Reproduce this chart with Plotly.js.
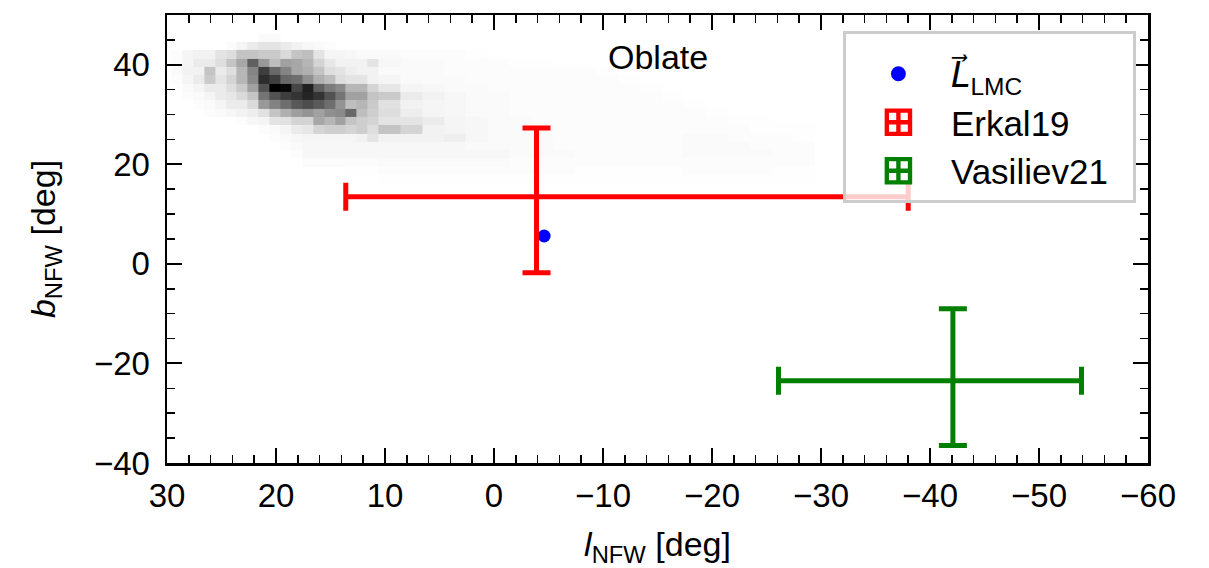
<!DOCTYPE html>
<html>
<head>
<meta charset="utf-8">
<script src="https://cdn.plot.ly/plotly-3.0.1.min.js"></script>
<style>html,body{margin:0;padding:0;background:#fff;}#chart{width:1209px;height:568px;}</style>
</head>
<body>
<div id="chart"></div>
<script>
// ---- 2D histogram of orbital poles (grey background) ----
// bin edges in l (deg): 1-deg bins in the core, 2-deg bins in the faint tail
const histXEdges = [29.6,28.6,27.6,26.6,25.6,24.6,23.6,22.6,21.6,20.6,19.6,18.6,17.6,16.6,15.6,14.6,13.6,12.6,11.6,10.6,
  8.6,6.6,4.6,2.6,0.6,-1.4,-3.4,-5.4,-7.4,-9.4,-11.4,-13.4,-15.4,-17.4,-19.4,-21.4,-23.4,-25.4,-27.4,-29.4];
// bin edges in b (deg), top to bottom
const histYEdges = [46.2,44.6,42.9,41.2,39.5,37.9,36.2,34.5,32.9,31.2,29.5,27.9,26.2,24.5,22.9,21.2,19.5,17.9,16.2];
// relative density (0 = white, 1 = black), one row per b bin, top to bottom
const histDensity = [
 [0,0,0,0,0,0,0,0,0.03,0.03,0,0,0,0,0,0,0,0,0, 0,0,0,0,0,0,0,0,0,0,0,0,0,0,0,0,0,0,0,0],
 [0,0,0,0,0,0.02,0.05,0.08,0.1,0.1,0.08,0.06,0.04,0.03,0.02,0,0,0,0, 0,0,0,0,0,0,0,0,0,0,0,0,0,0,0,0,0,0,0,0],
 [0.02,0.05,0.06,0.06,0.1,0.12,0.2,0.2,0.18,0.18,0.13,0.2,0.22,0.1,0.05,0.05,0.04,0.03,0.03, 0.03,0.02,0.02,0.02,0.01,0,0,0,0,0,0,0,0,0,0,0,0,0,0,0],
 [0.02,0.05,0.08,0.08,0.12,0.2,0.3,0.55,0.35,0.22,0.32,0.3,0.25,0.15,0.09,0.06,0.06,0.06,0.1, 0.04,0.03,0.03,0.02,0.02,0.02,0.01,0.01,0,0,0,0,0,0,0,0,0,0,0,0],
 [0.03,0.06,0.06,0.2,0.08,0.12,0.25,0.42,0.68,0.52,0.42,0.3,0.27,0.2,0.12,0.1,0.07,0.06,0.06, 0.03,0.03,0.03,0.02,0.02,0.02,0.02,0.02,0.02,0.02,0.01,0,0,0,0,0,0,0,0,0],
 [0.02,0.05,0.08,0.18,0.1,0.15,0.25,0.4,0.75,0.68,0.52,0.5,0.38,0.27,0.22,0.12,0.1,0.1,0.06, 0.05,0.03,0.03,0.03,0.02,0.02,0.02,0.02,0.02,0.02,0.02,0.01,0,0,0,0,0,0,0,0],
 [0.01,0.03,0.05,0.08,0.08,0.12,0.18,0.32,0.6,1.0,0.95,0.65,0.8,0.55,0.45,0.4,0.25,0.25,0.15, 0.09,0.05,0.04,0.03,0.03,0.02,0.02,0.02,0.02,0.02,0.02,0.02,0.01,0,0,0,0,0,0,0],
 [0,0.02,0.03,0.05,0.08,0.09,0.13,0.2,0.48,0.6,0.68,0.72,0.78,0.72,0.6,0.48,0.32,0.32,0.2, 0.18,0.08,0.06,0.04,0.03,0.03,0.02,0.02,0.02,0.02,0.02,0.02,0.02,0.01,0,0,0,0,0,0],
 [0,0,0.02,0.03,0.05,0.08,0.08,0.13,0.35,0.43,0.5,0.58,0.62,0.57,0.5,0.37,0.22,0.25,0.18, 0.11,0.06,0.05,0.04,0.03,0.03,0.02,0.02,0.02,0.02,0.02,0.02,0.02,0.02,0.01,0,0,0,0,0],
 [0,0,0,0.02,0.03,0.04,0.06,0.07,0.11,0.2,0.27,0.33,0.37,0.32,0.38,0.4,0.52,0.22,0.17, 0.12,0.07,0.05,0.04,0.03,0.03,0.02,0.02,0.02,0.02,0.02,0.02,0.02,0.02,0.02,0.01,0,0,0,0],
 [0,0,0,0,0,0,0.02,0.04,0.05,0.1,0.11,0.15,0.15,0.3,0.25,0.32,0.2,0.17,0.15, 0.1,0.1,0.08,0.05,0.04,0.03,0.03,0.02,0.02,0.02,0.02,0.02,0.02,0.02,0.02,0.02,0.01,0.01,0,0],
 [0,0,0,0,0,0,0,0,0.02,0.03,0.05,0.08,0.09,0.15,0.17,0.17,0.15,0.17,0.12, 0.2,0.15,0.06,0.05,0.04,0.03,0.03,0.02,0.02,0.02,0.02,0.02,0.02,0.02,0.02,0.02,0.02,0.01,0.01,0.01],
 [0,0,0,0,0,0,0,0,0,0.02,0.03,0.04,0.05,0.05,0.05,0.05,0.05,0.06,0.1, 0.06,0.06,0.06,0.07,0.04,0.03,0.03,0.03,0.02,0.02,0.02,0.02,0.02,0.02,0.03,0.03,0.02,0.02,0.02,0.01],
 [0,0,0,0,0,0,0,0,0,0,0.02,0.03,0.04,0.04,0.04,0.04,0.04,0.04,0.04, 0.04,0.04,0.04,0.04,0.03,0.03,0.03,0.03,0.02,0.02,0.02,0.02,0.02,0.02,0.03,0.03,0.03,0.02,0.02,0.02],
 [0,0,0,0,0,0,0,0,0,0,0,0.02,0.04,0.04,0.04,0.04,0.04,0.04,0.04, 0.04,0.04,0.04,0.04,0.04,0.04,0.03,0.03,0.03,0.02,0.02,0.02,0.02,0.02,0.03,0.03,0.03,0.03,0.02,0.02],
 [0,0,0,0,0,0,0,0,0,0,0,0,0.02,0.02,0.02,0.02,0.02,0.02,0.02, 0.03,0.03,0.03,0.03,0.03,0.03,0.02,0.02,0.02,0.02,0.02,0.02,0.02,0.02,0.02,0.02,0.02,0.02,0.02,0.02],
 [0,0,0,0,0,0,0,0,0,0,0,0,0,0,0,0,0.01,0.01,0.01, 0.02,0.02,0.02,0.02,0.02,0.02,0.02,0.02,0.02,0.01,0.01,0.01,0.01,0.01,0.02,0.02,0.02,0.02,0.01,0.01],
 [0,0,0,0,0,0,0,0,0,0,0,0,0,0,0,0,0,0,0, 0.01,0.01,0.01,0.01,0.01,0.01,0.01,0.01,0.01,0.01,0.01,0.01,0.01,0.01,0.01,0.01,0.01,0.01,0.01,0.01]
];

// ---- LMC orbital angular momentum direction ----
const lmcL = [-4.6];
const lmcB = [5.6];

// ---- measurements: centre and lower/upper extents (deg) ----
const seriesNames = ["Erkal19", "Vasiliev21"];
const seriesColors = ["#ff0000", "#008000"];
const centerL = [-3.9, -42.1];
const centerB = [13.5, -23.5];
const lLow  = [-38.0, -53.9];   // most negative l of the bar
const lHigh = [13.6, -26.1];    // most positive l of the bar
const bLow  = [-1.8, -36.5];
const bHigh = [27.3, -9.0];

const FONT = "Liberation Sans, Arial, Helvetica, sans-serif";

const traces = [];
traces.push({
  type: "heatmap",
  x: histXEdges, y: histYEdges, z: histDensity,
  zmin: 0, zmax: 1, zsmooth: false,
  colorscale: [[0, "#ffffff"], [0.02, "#fcfcfc"], [0.05, "#f5f5f5"], [0.1, "#e4e4e4"], [0.2, "#c4c4c4"],
               [0.4, "#8a8a8a"], [0.6, "#525252"], [0.8, "#202020"], [1, "#000000"]],
  showscale: false, hoverinfo: "skip", showlegend: false
});
traces.push({
  type: "scatter", mode: "markers",
  x: lmcL, y: lmcB,
  marker: {color: "#0000ff", size: 13},
  name: "<span style=\"font-family:'DejaVu Sans'\"><i>L\u20D7</i></span><sub>LMC</sub>",
  legendgroup: "g0", showlegend: true
});
for (let i = 0; i < seriesNames.length; i++) {
  traces.push({
    type: "scatter", mode: "markers",
    x: [centerL[i]], y: [centerB[i]],
    marker: {size: 1, color: seriesColors[i], opacity: 0},
    error_x: {type: "data", symmetric: false,
      array: [lHigh[i] - centerL[i]], arrayminus: [centerL[i] - lLow[i]],
      color: seriesColors[i], thickness: 5, width: 14},
    error_y: {type: "data", symmetric: false,
      array: [bHigh[i] - centerB[i]], arrayminus: [centerB[i] - bLow[i]],
      color: seriesColors[i], thickness: 5, width: 14},
    showlegend: false, hoverinfo: "skip"
  });
  // legend glyph only (the widest label gets trailing padding so the box is as wide as the reference's)
  traces.push({
    type: "scatter", mode: "markers",
    x: [null], y: [null],
    marker: {symbol: "square-cross-open", size: 16, color: seriesColors[i], line: {width: 3, color: seriesColors[i]}},
    name: seriesNames[i] + (i === seriesNames.length - 1 ? "\u00a0\u00a0" : ""),
    legendgroup: "g" + (i + 1), showlegend: true
  });
}

const axisCommon = {
  showline: true, linecolor: "#000", linewidth: 2.5, mirror: "allticks",
  ticks: "inside", ticklen: 15, tickwidth: 2, tickcolor: "#000",
  showgrid: false, zeroline: false,
  tickfont: {family: FONT, size: 33, color: "#000"}
};

const layout = {
  width: 1209, height: 568,
  margin: {l: 167, r: 61, t: 15, b: 105},
  paper_bgcolor: "#fff", plot_bgcolor: "#fff",
  font: {family: FONT, color: "#000"},
  xaxis: Object.assign({}, axisCommon, {
    range: [30, -60], autorange: false, dtick: 10, tick0: 0,
    minor: {dtick: 2, ticks: "inside", ticklen: 8, tickwidth: 1.5, tickcolor: "#000"},
    ticklabelstandoff: 2,
    title: {text: "<i>l</i><sub>NFW</sub> [deg]", font: {family: FONT, size: 34}, standoff: 21}
  }),
  yaxis: Object.assign({}, axisCommon, {
    range: [-40, 50], autorange: false, dtick: 20, tick0: 0,
    minor: {dtick: 5, ticks: "inside", ticklen: 8, tickwidth: 1.5, tickcolor: "#000"},
    ticklabelstandoff: 8,
    title: {text: "<i>b</i><sub>NFW</sub> [deg]", font: {family: FONT, size: 34}, standoff: 28}
  }),
  legend: {
    x: 0.689, y: 0.964, xanchor: "left", yanchor: "top",
    bgcolor: "rgba(255,255,255,0.8)", bordercolor: "#cccccc", borderwidth: 3,
    font: {family: FONT, size: 35, color: "#000"},
    title: {text: "\u00a0", font: {size: 8}},
    tracegroupgap: 0, itemwidth: 95
  },
  annotations: [{
    x: -15, y: 41.6, xref: "x", yref: "y", text: "Oblate", showarrow: false,
    font: {family: FONT, size: 34, color: "#000"}
  }]
};

Plotly.newPlot("chart", traces, layout, {displayModeBar: false, staticPlot: true}).then(function (gd) {
  // enlarge the legend glyphs to match the reference's legend handles
  gd.querySelectorAll(".legend .legendpoints path.scatterpts").forEach(function (p) {
    const t = p.getAttribute("transform") || "";
    const isSquare = (p.getAttribute("d") || "").indexOf("H") >= 0;
    p.setAttribute("transform", t + (isSquare ? " scale(1.45)" : " scale(1.15)"));
  });
});
</script>
</body>
</html>
